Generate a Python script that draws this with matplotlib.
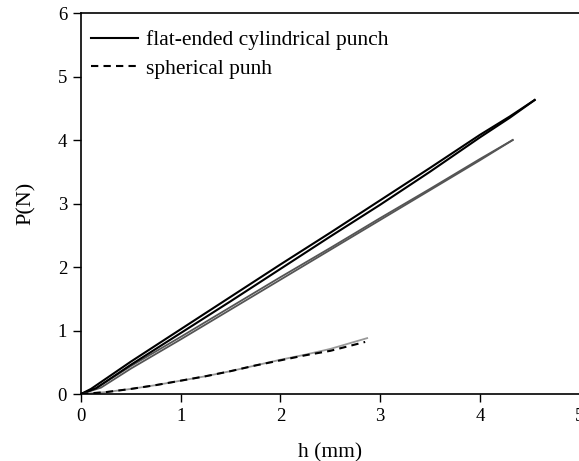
import matplotlib
matplotlib.use("Agg")
import matplotlib.pyplot as plt

# flat-ended cylindrical punch, two black runs
flat_h1 = [0, 0.1, 0.5, 1, 1.5, 2, 2.5, 3, 3.5, 4, 4.3, 4.55]
flat_p1 = [0, 0.08, 0.51, 1.02, 1.53, 2.04, 2.54, 3.05, 3.56, 4.08, 4.37, 4.63]
flat_h2 = [0, 0.15, 0.5, 1, 1.5, 2, 2.5, 3, 3.5, 4, 4.3, 4.55]
flat_p2 = [0, 0.09, 0.46, 0.96, 1.46, 1.97, 2.48, 2.98, 3.50, 4.04, 4.35, 4.63]

# flat-ended cylindrical punch, two grey runs
flat_h3 = [0, 0.15, 0.5, 1, 1.5, 2, 2.5, 3, 3.5, 4, 4.33]
flat_p3 = [0, 0.09, 0.44, 0.90, 1.37, 1.84, 2.30, 2.77, 3.23, 3.70, 4.00]
flat_h4 = [0, 0.2, 0.5, 1, 1.5, 2, 2.5, 3, 3.5, 4, 4.33]
flat_p4 = [0, 0.10, 0.40, 0.86, 1.33, 1.80, 2.27, 2.74, 3.21, 3.68, 4.00]

# spherical punch
sph_h1 = [0, 0.25, 0.5, 0.75, 1, 1.25, 1.5, 1.75, 2, 2.25, 2.5, 2.87]
sph_p1 = [0, 0.03, 0.08, 0.14, 0.21, 0.28, 0.36, 0.45, 0.54, 0.62, 0.71, 0.88]
sph_h2 = [0, 0.25, 0.5, 0.75, 1, 1.25, 1.5, 1.75, 2, 2.25, 2.5, 2.85]
sph_p2 = [0, 0.03, 0.08, 0.14, 0.21, 0.28, 0.36, 0.45, 0.53, 0.61, 0.68, 0.82]

plt.rcParams["font.family"] = ["Liberation Serif", "DejaVu Serif"]

fig = plt.figure(figsize=(5.79, 4.61), dpi=100)
ax = fig.add_axes([0.1399, 0.1453, 0.861, 0.8265])

ax.plot(flat_h3, flat_p3, color="#555555", lw=1.3)
ax.plot(flat_h4, flat_p4, color="#555555", lw=1.3)
ax.plot(flat_h1, flat_p1, color="black", lw=1.5, label="flat-ended cylindrical punch")
ax.plot(flat_h2, flat_p2, color="black", lw=1.5)
ax.plot(sph_h1, sph_p1, color="#999999", lw=1.3)
ax.plot(sph_h2, sph_p2, color="black", lw=1.5, ls=(0, (3.5, 2.5)), label="spherical punh")

ax.set_xlim(0, 5)
ax.set_ylim(0, 6)
ax.set_xticks([0, 1, 2, 3, 4, 5])
ax.set_yticks([0, 1, 2, 3, 4, 5, 6])
ax.tick_params(direction="out", length=6, width=1, pad=4, top=False, right=False, labelsize=13.5)
for s in ax.spines.values():
    s.set_linewidth(1.2)

ax.set_xlabel("h (mm)", fontsize=15.5, labelpad=13)
ax.set_ylabel("P(N)", fontsize=16, labelpad=16)

ax.legend(loc="upper left", frameon=False, fontsize=15.5, handlelength=2.2,
          handletextpad=0.35, labelspacing=0.38, borderaxespad=0.0,
          borderpad=0.45, bbox_to_anchor=(0.0, 0.98))

fig.savefig("out.png", dpi=100)
